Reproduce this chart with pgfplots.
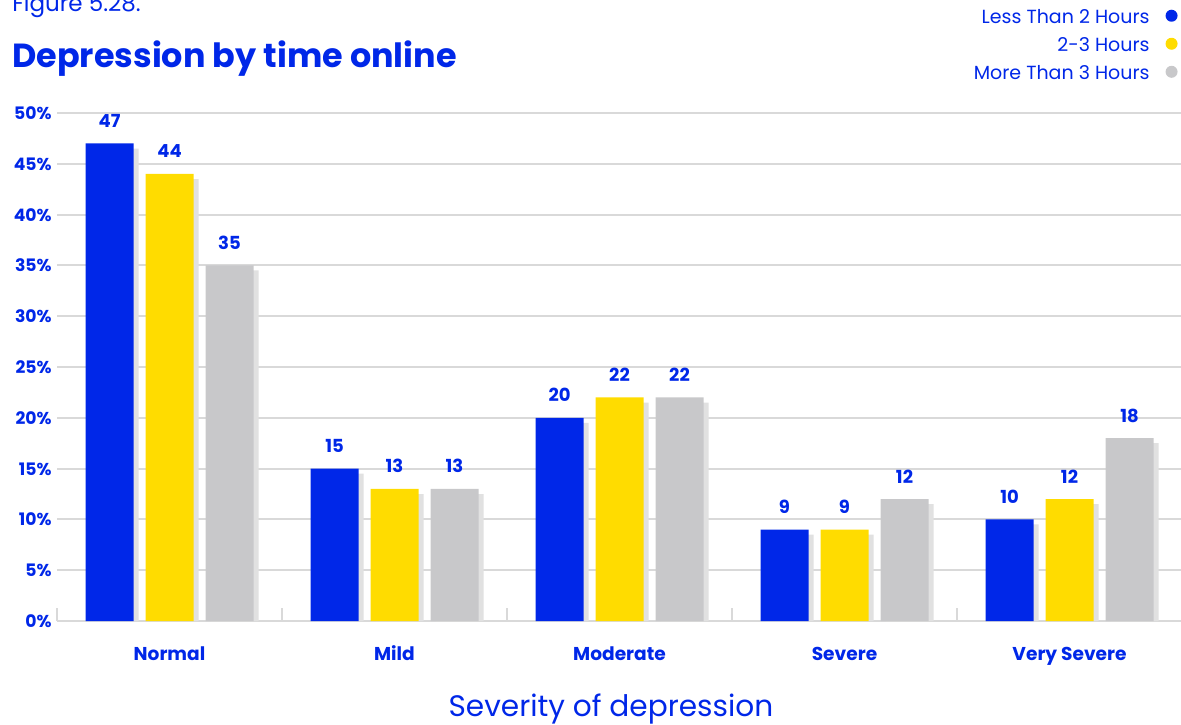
\documentclass[border=0pt]{standalone}
\usepackage{pgfplots}
\pgfplotsset{compat=1.18}
\usepackage{fontspec}
\setmainfont{Poppins}

\definecolor{cblue}{RGB}{0,39,232}
\definecolor{cyellow}{RGB}{255,220,0}
\definecolor{cgray}{RGB}{200,200,202}
\definecolor{cshadow}{RGB}{225,225,225}
\definecolor{gridgray}{RGB}{217,217,217}

\begin{document}
\begin{tikzpicture}[x=0.5pt,y=0.5pt]
\path[use as bounding box] (0,0) rectangle (1181,724);
\begin{axis}[
  at={(28.5pt,51.5pt)}, anchor=south west,
  scale only axis, width=562.5pt, height=254pt,
  xmin=-0.5, xmax=4.5, ymin=0, ymax=50,
  ybar, bar width=24pt,
  /pgf/number format/assume math mode=true,
  axis line style={draw=none},
  ymajorgrids, grid style={color=gridgray, line width=1pt},
  ytick={0,5,...,50},
  yticklabels={0\%,5\%,10\%,15\%,20\%,25\%,30\%,35\%,40\%,45\%,50\%},
  xtick={0,...,4},
  xticklabels={Normal,Mild,Moderate,Severe,Very Severe},
  major tick length=0pt,
  minor xtick={-0.5,0.5,1.5,2.5,3.5,4.5},
  minor tick length=6.5pt,
  minor tick style={color=gridgray, line width=1pt},
  tick align=inside, tick pos=left,
  yticklabel style={anchor=base east, inner sep=0pt, xshift=-2.5pt, yshift=-3.25pt,
    font=\fontsize{8.6}{10}\selectfont\bfseries, text=cblue},
  xticklabel style={anchor=base, inner sep=0pt, yshift=-19.5pt,
    font=\fontsize{9.3}{11}\selectfont\bfseries, text=cblue},
  xlabel={Severity of depression},
  xlabel style={at={(axis description cs:0.4924,-0.187)}, anchor=base, inner sep=0pt,
    font=\fontsize{14.8}{18}\selectfont, text=cblue},
  every node near coord/.append style={anchor=base, inner sep=0pt, yshift=8pt,
    font=\fontsize{9}{10}\selectfont\bfseries, text=cblue},
  legend plot pos=right,
  legend cell align=right,
  legend style={at={(0.9964,1.213)}, anchor=north east, draw=none, fill=none,
    inner sep=0pt, row sep=1.5pt, font=\fontsize{9.5}{12}\selectfont, text=cblue},
]
% shadows
\addplot[draw=none, fill=cshadow, bar shift=-27.5pt, forget plot] coordinates {(0,46.5) (1,14.5) (2,19.5) (3,8.5) (4,9.5)};
\addplot[draw=none, fill=cshadow, bar shift=2.5pt, forget plot] coordinates {(0,43.5) (1,12.5) (2,21.5) (3,8.5) (4,11.5)};
\addplot[draw=none, fill=cshadow, bar shift=32.5pt, forget plot] coordinates {(0,34.5) (1,12.5) (2,21.5) (3,11.5) (4,17.5)};
% bars
\addplot[draw=none, fill=cblue, bar shift=-30pt, nodes near coords, forget plot] coordinates {(0,47) (1,15) (2,20) (3,9) (4,10)};
\addplot[draw=none, fill=cyellow, bar shift=0pt, nodes near coords, forget plot] coordinates {(0,44) (1,13) (2,22) (3,9) (4,12)};
\addplot[draw=none, fill=cgray, bar shift=30pt, nodes near coords, forget plot] coordinates {(0,35) (1,13) (2,22) (3,12) (4,18)};
\addlegendimage{legend image code/.code={\path[draw=none, fill=none] (0pt,0pt) -- (12pt,0pt); \fill[cblue, draw=none] (9pt,1pt) circle (3pt);}}
\addlegendentry{Less Than 2 Hours}
\addlegendimage{legend image code/.code={\path[draw=none, fill=none] (0pt,0pt) -- (12pt,0pt); \fill[cyellow, draw=none] (9pt,1pt) circle (3pt);}}
\addlegendentry{2-3 Hours}
\addlegendimage{legend image code/.code={\path[draw=none, fill=none] (0pt,0pt) -- (12pt,0pt); \fill[cgray, draw=none] (9pt,1pt) circle (3pt);}}
\addlegendentry{More Than 3 Hours}
\end{axis}
\node[anchor=base west, inner sep=0pt, font=\fontsize{11.5}{12}\selectfont, text=cblue] at (12,712) {Figure 5.28.};
\node[anchor=base west, inner sep=0pt, font=\fontsize{16.7}{20}\selectfont\bfseries, text=cblue] at (12,656) {Depression by time online};
\end{tikzpicture}
\end{document}
